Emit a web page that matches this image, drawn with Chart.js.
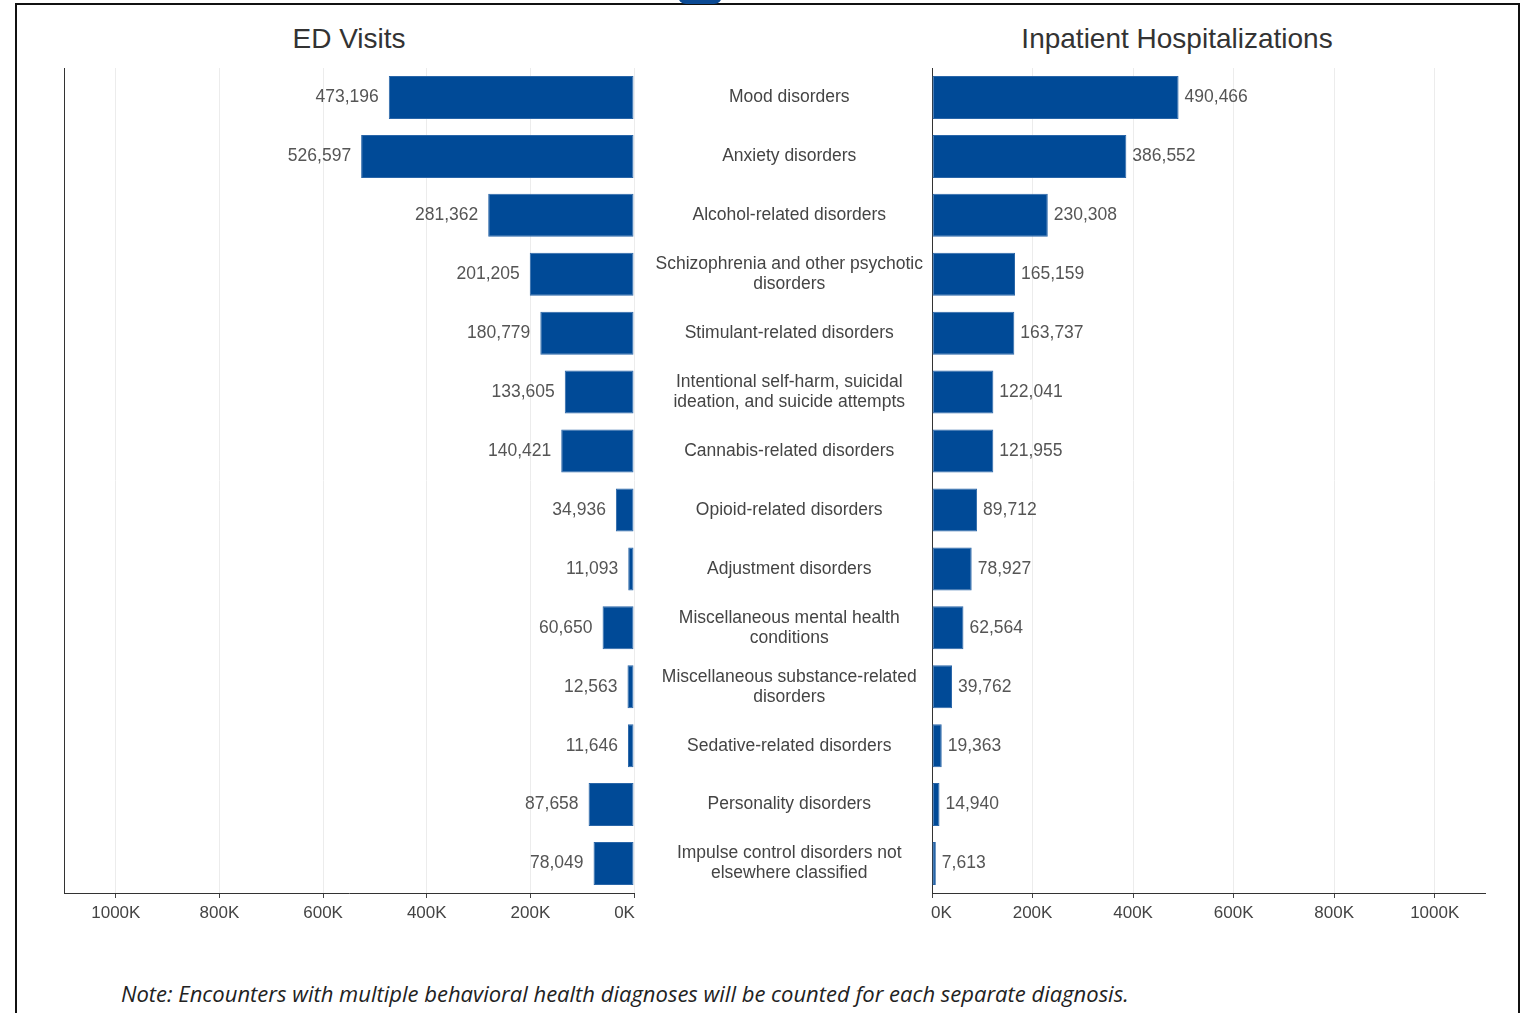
<!DOCTYPE html>
<html>
<head>
<meta charset="utf-8">
<script src="https://cdn.jsdelivr.net/npm/chart.js@4.4.1/dist/chart.umd.min.js"></script>
<style>
  html, body { margin: 0; padding: 0; background: #fff; overflow: hidden; }
  body { width: 1527px; height: 1013px; position: relative; font-family: "Liberation Sans", Arial, sans-serif; }
  #frame { position: absolute; left: 15px; top: 3px; width: 1501px; height: 1100px; border: 2px solid #111; }
  #tab { position: absolute; left: 678px; top: -12px; width: 44px; height: 16px; background: #0b4a94; border-radius: 10px; }
  .ttl { position: absolute; top: 23px; font-size: 28px; color: #333; transform: translateX(-50%); white-space: nowrap; }
  #left { position: absolute; left: 0; top: 0; }
  #right { position: absolute; left: 640px; top: 0; }
  #note { position: absolute; left: 121px; top: 978px; font-family: "Open Sans", "Noto Sans", sans-serif; font-style: italic; font-size: 22px; color: #222; white-space: nowrap; }
</style>
</head>
<body>
<div id="frame"></div>
<div id="tab"></div>
<div class="ttl" style="left:349px">ED Visits</div>
<div class="ttl" style="left:1177px">Inpatient Hospitalizations</div>
<div id="left"><canvas id="edChart" width="645" height="940"></canvas></div>
<div id="right"><canvas id="ipChart" width="887" height="940"></canvas></div>
<div id="note">Note: Encounters with multiple behavioral health diagnoses will be counted for each separate diagnosis.</div>
<script>
// categories (top to bottom), multi-line ones split the way the picture wraps them
const categories = [
  "Mood disorders",
  "Anxiety disorders",
  "Alcohol-related disorders",
  ["Schizophrenia and other psychotic", "disorders"],
  "Stimulant-related disorders",
  ["Intentional self-harm, suicidal", "ideation, and suicide attempts"],
  "Cannabis-related disorders",
  "Opioid-related disorders",
  "Adjustment disorders",
  ["Miscellaneous mental health", "conditions"],
  ["Miscellaneous substance-related", "disorders"],
  "Sedative-related disorders",
  "Personality disorders",
  ["Impulse control disorders not", "elsewhere classified"],
];
const edVisits = [473196, 526597, 281362, 201205, 180779, 133605, 140421, 34936, 11093, 60650, 12563, 11646, 87658, 78049];
const inpatient = [490466, 386552, 230308, 165159, 163737, 122041, 121955, 89712, 78927, 62564, 39762, 19363, 14940, 7613];
const tickValues = [0, 200000, 400000, 600000, 800000, 1000000];
const axisMax = 1100000;

const BLUE = "#004a97";
const FONT = "'Liberation Sans', Arial, sans-serif";
const TXT = "#444";

// value labels next to each bar end
const valueLabels = {
  id: "valueLabels",
  afterDatasetsDraw(chart, args, opts) {
    const ctx = chart.ctx;
    const meta = chart.getDatasetMeta(0);
    ctx.save();
    ctx.font = "17.5px " + FONT;
    ctx.fillStyle = "#555";
    ctx.textBaseline = "middle";
    meta.data.forEach((bar, i) => {
      const txt = chart.data.datasets[0].data[i].toLocaleString("en-US");
      if (opts.side === "left") {
        ctx.textAlign = "right";
        ctx.fillText(txt, bar.x - 10, bar.y);
      } else {
        ctx.textAlign = "left";
        ctx.fillText(txt, bar.x + 6, bar.y);
      }
    });
    ctx.restore();
  }
};

function kFmt(v) { return (v / 1000) + "K"; }

function makeChart(canvas, data, side) {
  const isLeft = side === "left";
  return new Chart(canvas, {
    type: "bar",
    data: {
      labels: categories,
      datasets: [{ data: data, backgroundColor: BLUE, borderColor: "#2a66a8", borderWidth: 1, borderSkipped: false,
                   barPercentage: 0.73, categoryPercentage: 1 }],
    },
    options: {
      indexAxis: "y",
      responsive: false,
      animation: false,
      events: [],
      layout: { padding: { top: 68, bottom: 0, left: 0, right: isLeft ? 11 : 42 } },
      plugins: { legend: { display: false }, tooltip: { enabled: false }, valueLabels: { side: side } },
      scales: {
        x: {
          min: 0, max: axisMax, reverse: isLeft,
          afterBuildTicks: s => { s.ticks = tickValues.map(v => ({ value: v })); },
          afterFit: s => { s.height = 47; s.paddingLeft = 0; s.paddingRight = 0; },
          grid: { color: "#ececec", tickColor: "#444", tickLength: 5, drawOnChartArea: true },
          border: { color: "#333", width: 1 },
          ticks: {
            autoSkip: false, maxRotation: 0, padding: 5, color: TXT, font: { family: FONT, size: 17 },
            // edge label sits inside the axis end, as in the picture
            callback: v => v === 0 ? (isLeft ? "0K\u2007\u2007" : "\u2007\u20070K") : kFmt(v),
          },
        },
        y: {
          afterFit: s => { s.width = isLeft ? 64 : 292; },
          grid: { display: false, drawTicks: false },
          border: { color: "#333", width: 1 },
          ticks: {
            display: !isLeft, crossAlign: "center", padding: 9, color: "#444",
            font: { family: FONT, size: 17.5, lineHeight: 1.15 },
          },
        },
      },
    },
    plugins: [valueLabels],
  });
}

makeChart(document.getElementById("edChart"), edVisits, "left");
makeChart(document.getElementById("ipChart"), inpatient, "right");
</script>
</body>
</html>
